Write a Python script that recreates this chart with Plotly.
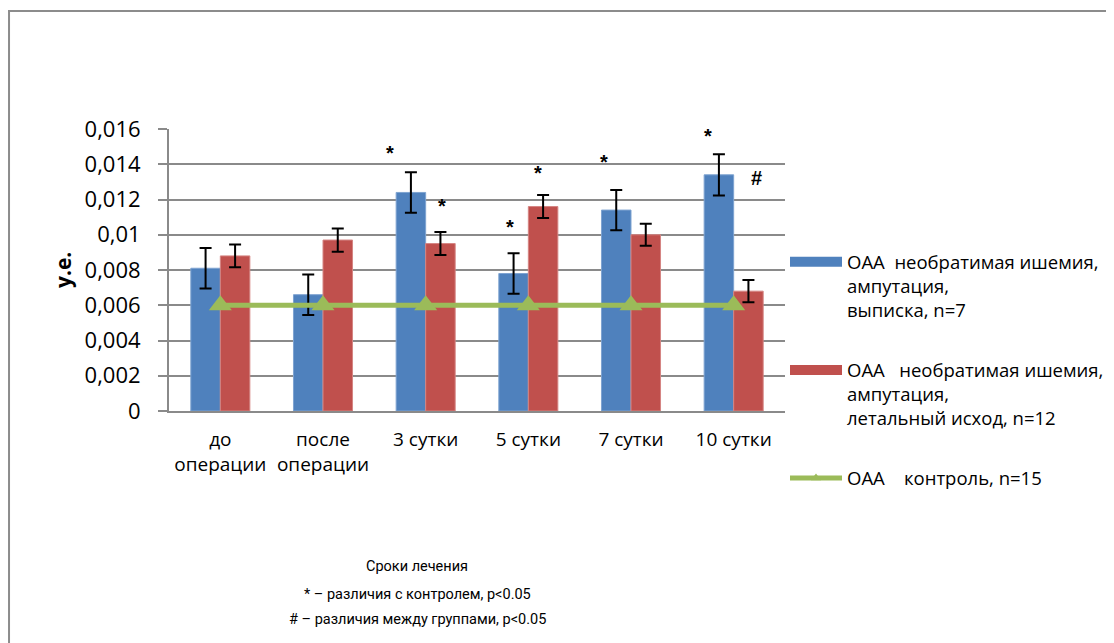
import plotly.graph_objects as go

categories = ["до<br>операции", "после<br>операции", "3 сутки", "5 сутки", "7 сутки", "10 сутки"]
discharge_vals = [0.0081, 0.0066, 0.0124, 0.0078, 0.0114, 0.0134]
discharge_err = [0.00115, 0.00115, 0.00115, 0.00115, 0.00114, 0.00117]
lethal_vals = [0.0088, 0.0097, 0.0095, 0.0116, 0.0100, 0.0068]
lethal_err = [0.00064, 0.00066, 0.00065, 0.00065, 0.00063, 0.00063]
control_vals = [0.006, 0.006, 0.006, 0.006, 0.006, 0.006]
y_ticks = [0, 0.002, 0.004, 0.006, 0.008, 0.010, 0.012, 0.014, 0.016]

names = [
    "ОАА\u00a0\u00a0необратимая ишемия,<br>ампутация,<br>выписка, n=7",
    "ОАА\u00a0\u00a0\u00a0необратимая ишемия,<br>ампутация,<br>летальный исход, n=12",
    "ОАА\u00a0\u00a0\u00a0\u00a0контроль, n=15",
]
# significance marks: (category index offset, y value, text)
marks = [
    (1.652, 0.01464, "*"), (2.158, 0.01165, "*"), (2.820, 0.01044, "*"),
    (3.093, 0.01350, "*"), (3.736, 0.01413, "*"), (4.748, 0.01560, "*"),
    (5.225, 0.01322, "#"),
]
bottom_lines = ["Сроки лечения", "* – различия с контролем, p<0.05", "# – различия между группами, p<0.05"]

FONT = "Open Sans, Noto Sans, sans-serif"
GRID = "#8a8a8a"
BLUE, RED, GREEN = "#4F81BD", "#C0504D", "#9BBB59"

fig = go.Figure()
fig.add_trace(go.Bar(
    x=categories, y=discharge_vals, name=names[0], legendgroup="a", showlegend=False,
    marker=dict(color=BLUE, line=dict(color="#7EA3D1", width=1)),
    error_y=dict(type="data", array=discharge_err, color="black", thickness=2, width=6),
))
fig.add_trace(go.Bar(
    x=categories, y=lethal_vals, name=names[1], legendgroup="b", showlegend=False,
    marker=dict(color=RED, line=dict(color="#D58583", width=1)),
    error_y=dict(type="data", array=lethal_err, color="black", thickness=2, width=6),
))
fig.add_trace(go.Scatter(
    x=categories, y=control_vals, name=names[2], legendgroup="c", mode="lines+markers",
    showlegend=False,
    line=dict(color=GREEN, width=5),
    marker=dict(symbol="triangle-up", size=20, color=GREEN),
))
# legend entries (wide rectangular keys like the original)
fig.add_trace(go.Scatter(x=[None], y=[None], name=names[0], legendgroup="a", mode="lines",
                         line=dict(color=BLUE, width=12)))
fig.add_trace(go.Scatter(x=[None], y=[None], name=names[1], legendgroup="b", mode="lines",
                         line=dict(color=RED, width=12)))
fig.add_trace(go.Scatter(x=[None], y=[None], name=names[2], legendgroup="c", mode="lines+markers",
                         line=dict(color=GREEN, width=5),
                         marker=dict(symbol="triangle-up", size=9, color=GREEN)))

annotations = []
for xi, yv, t in marks:
    annotations.append(dict(
        x=xi, y=yv, xref="x", yref="y", text=t, showarrow=False,
        font=dict(family="Liberation Sans, Arial", size=20, color="black", weight="bold"),
    ))
annotations.append(dict(
    x=-0.172, y=0.5, xref="paper", yref="paper", text="<b>у.е.</b>", textangle=-90,
    xanchor="center", yanchor="middle",
    showarrow=False, font=dict(family=FONT, size=21, color="black"),
))
for txt, yp in zip(bottom_lines, [-0.553, -0.652, -0.741]):
    annotations.append(dict(
        x=0.4026, y=yp, xref="paper", yref="paper", text=txt, showarrow=False,
        xanchor="center", yanchor="middle",
        font=dict(family="Roboto, Open Sans", size=14.5, color="black"),
    ))

fig.update_layout(
    width=1114, height=643,
    margin=dict(l=161, r=337, t=121, b=240),
    paper_bgcolor="white", plot_bgcolor="white",
    separators=", ",
    barmode="group", bargap=0.425, bargroupgap=0,
    font=dict(family=FONT, color="black"),
    showlegend=True,
    legend=dict(
        x=1.0, xanchor="left", y=0.595, yanchor="top",
        font=dict(family=FONT, size=18.5, color="black"),
        valign="top", tracegroupgap=33, itemwidth=52,
        bgcolor="rgba(0,0,0,0)",
    ),
    xaxis=dict(
        type="category", showgrid=False, showline=True, linecolor=GRID, linewidth=2,
        tickfont=dict(family=FONT, size=19), ticks="", ticklabelstandoff=10,
    ),
    yaxis=dict(
        range=[0, 0.016], tickvals=y_ticks, tickformat=",.3~f",
        showgrid=True, gridcolor=GRID, gridwidth=2,
        showline=True, linecolor=GRID, linewidth=2,
        ticks="outside", ticklen=9, tickcolor=GRID, tickwidth=2, ticklabelstandoff=13,
        tickfont=dict(family=FONT, size=22), zeroline=False,
    ),
    annotations=annotations,
    shapes=[dict(
        type="rect", xref="paper", yref="paper",
        x0=-0.2597, x1=1.7, y0=1.4185, y1=-1.2,
        line=dict(color="#8c8c8c", width=2), fillcolor="rgba(0,0,0,0)", layer="below",
    )],
)

fig.write_html("out.html")
